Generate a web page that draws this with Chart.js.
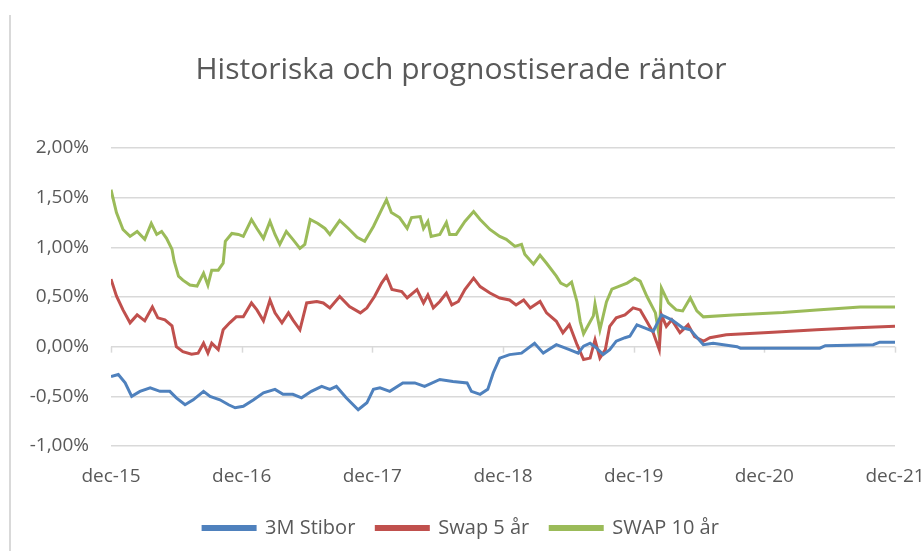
<!DOCTYPE html>
<html>
<head>
<meta charset="utf-8">
<script src="https://cdn.jsdelivr.net/npm/chart.js@4"></script>
<style>
  html, body { margin: 0; padding: 0; background: #fff; }
  #wrap { position: relative; width: 922px; height: 551px; }
  #frame { position: absolute; left: 9px; top: 15px; bottom: 0; border-left: 2px solid #d9d9d9; }
  canvas { position: absolute; left: 0; top: 0; }
</style>
</head>
<body>
<div id="wrap">
  <div id="frame"></div>
  <canvas id="chart" width="922" height="551"></canvas>
</div>
<script>
// x values are months counted from dec-15
var tickLabels = ["dec-15", "dec-16", "dec-17", "dec-18", "dec-19", "dec-20", "dec-21"];
var seriesNames = ["3M Stibor", "Swap 5 år", "SWAP 10 år"];
var seriesColors = ["#4f81bd", "#c0504d", "#9bbb59"];

var stiborMonths = [0, 0.67, 1.3, 1.9, 2.66, 3.6, 4.5, 5.4, 6.0, 6.8, 7.55, 8.5, 9.1, 10.0, 10.8, 11.4, 12.15, 13.1, 14.0, 15.06, 15.8, 16.7, 17.5, 18.4, 19.35, 20.1, 20.7, 21.6, 22.7, 23.5, 24.1, 24.7, 25.6, 26.8, 27.9, 28.8, 30.2, 31.4, 32.7, 33.1, 33.9, 34.6, 35.1, 35.7, 36.6, 37.7, 38.9, 39.7, 40.9, 42.1, 42.9, 43.4, 44.0, 44.6, 45.2, 45.8, 46.4, 47.2, 47.65, 48.3, 49.0, 49.8, 50.55, 51.5, 52.5, 53.2, 54.4, 55.3, 57.5, 57.8, 65.1, 65.6, 70, 70.6, 72];
var stiborValues = [-0.30, -0.28, -0.365, -0.50, -0.45, -0.415, -0.45, -0.45, -0.515, -0.585, -0.535, -0.45, -0.50, -0.535, -0.585, -0.615, -0.60, -0.535, -0.465, -0.43, -0.48, -0.48, -0.515, -0.45, -0.40, -0.43, -0.40, -0.515, -0.635, -0.565, -0.43, -0.415, -0.45, -0.365, -0.365, -0.40, -0.33, -0.35, -0.365, -0.45, -0.48, -0.43, -0.265, -0.115, -0.08, -0.065, 0.035, -0.065, 0.02, -0.03, -0.065, 0.005, 0.035, -0.015, -0.08, -0.03, 0.055, 0.09, 0.105, 0.22, 0.19, 0.155, 0.32, 0.27, 0.19, 0.17, 0.02, 0.035, 0.0, -0.015, -0.015, 0.01, 0.02, 0.045, 0.045];

var swap5Months = [0, 0.5, 1.1, 1.75, 2.4, 3.1, 3.8, 4.3, 4.95, 5.6, 6.0, 6.6, 7.4, 8.0, 8.5, 8.9, 9.25, 9.85, 10.3, 10.9, 11.5, 12.15, 12.9, 13.4, 14.0, 14.6, 15.06, 15.7, 16.3, 16.7, 17.35, 17.97, 18.9, 19.5, 20.1, 21.0, 21.9, 22.9, 23.5, 24.2, 24.85, 25.3, 25.8, 26.7, 27.2, 28.1, 28.7, 29.1, 29.6, 30.2, 30.8, 31.3, 31.9, 32.5, 33.3, 33.9, 34.8, 35.7, 36.6, 37.2, 37.9, 38.5, 39.4, 40.0, 40.9, 41.5, 42.1, 42.8, 43.4, 44.0, 44.45, 44.9, 45.4, 45.8, 46.4, 47.2, 47.95, 48.6, 49.2, 49.8, 50.35, 50.55, 51.0, 51.5, 52.25, 53.0, 53.6, 54.4, 55.0, 56.5, 60.8, 64.8, 68.5, 72];
var swap5Values = [0.68, 0.51, 0.37, 0.24, 0.32, 0.26, 0.40, 0.29, 0.27, 0.21, 0.0, -0.05, -0.075, -0.065, 0.035, -0.065, 0.035, -0.03, 0.17, 0.24, 0.30, 0.30, 0.44, 0.37, 0.26, 0.47, 0.34, 0.24, 0.34, 0.27, 0.17, 0.44, 0.455, 0.44, 0.39, 0.505, 0.405, 0.34, 0.39, 0.505, 0.64, 0.71, 0.575, 0.555, 0.49, 0.575, 0.44, 0.52, 0.39, 0.455, 0.54, 0.42, 0.455, 0.575, 0.69, 0.605, 0.54, 0.49, 0.47, 0.42, 0.47, 0.39, 0.455, 0.34, 0.255, 0.14, 0.22, 0.02, -0.13, -0.115, 0.07, -0.115, -0.03, 0.205, 0.29, 0.32, 0.39, 0.37, 0.255, 0.14, -0.03, 0.32, 0.205, 0.27, 0.14, 0.22, 0.10, 0.055, 0.09, 0.12, 0.145, 0.17, 0.19, 0.205];

var swap10Months = [0, 0.5, 1.1, 1.75, 2.4, 3.1, 3.7, 4.2, 4.65, 5.1, 5.6, 5.8, 6.2, 6.6, 7.25, 7.9, 8.5, 8.9, 9.25, 9.85, 10.3, 10.5, 11.1, 11.7, 12.15, 12.9, 13.4, 14.0, 14.6, 15.06, 15.5, 16.1, 16.7, 17.35, 17.8, 18.3, 19.0, 19.65, 20.1, 21.0, 21.8, 22.6, 23.3, 24.1, 24.85, 25.3, 25.75, 26.5, 27.2, 27.6, 28.4, 28.7, 29.1, 29.4, 30.2, 30.8, 31.1, 31.7, 32.5, 33.3, 33.9, 34.8, 35.7, 36.3, 37.1, 37.7, 38.0, 38.8, 39.4, 40.0, 40.9, 41.3, 41.85, 42.3, 42.8, 43.1, 43.4, 43.8, 44.3, 44.45, 44.9, 45.5, 46.0, 46.7, 47.4, 48.1, 48.6, 49.2, 50.0, 50.35, 50.55, 51.2, 51.9, 52.5, 53.2, 53.8, 54.4, 57.1, 61.7, 64.8, 68.8, 72];
var swap10Values = [1.58, 1.35, 1.18, 1.11, 1.16, 1.08, 1.24, 1.13, 1.16, 1.09, 0.98, 0.86, 0.71, 0.67, 0.62, 0.61, 0.74, 0.62, 0.77, 0.77, 0.84, 1.06, 1.14, 1.13, 1.11, 1.28, 1.19, 1.09, 1.26, 1.13, 1.03, 1.16, 1.08, 0.99, 1.03, 1.28, 1.24, 1.19, 1.13, 1.27, 1.19, 1.10, 1.06, 1.21, 1.38, 1.48, 1.35, 1.30, 1.19, 1.30, 1.31, 1.19, 1.26, 1.11, 1.13, 1.25, 1.13, 1.13, 1.26, 1.36, 1.28, 1.18, 1.11, 1.08, 1.01, 1.03, 0.93, 0.83, 0.92, 0.84, 0.71, 0.64, 0.61, 0.65, 0.45, 0.25, 0.13, 0.21, 0.31, 0.43, 0.17, 0.45, 0.58, 0.61, 0.64, 0.69, 0.66, 0.51, 0.34, 0.10, 0.59, 0.44, 0.37, 0.36, 0.49, 0.36, 0.30, 0.32, 0.345, 0.37, 0.40, 0.40];

var yMin = -1, yMax = 2, yStep = 0.5;

function toPoints(months, values) {
    return months.map(function (m, i) { return { x: m, y: values[i] }; });
}

function makeDataset(i, months, values) {
    return {
        label: seriesNames[i],
        data: toPoints(months, values),
        borderColor: seriesColors[i],
        backgroundColor: seriesColors[i],
        borderWidth: 3,
        pointRadius: 0,
        tension: 0,
        fill: false
    };
}

// small tick marks on the zero line, like the original
var zeroTicks = {
    id: "zeroTicks",
    beforeDatasetsDraw: function (chart) {
        var x = chart.scales.x, y = chart.scales.y, ctx = chart.ctx;
        var y0 = y.getPixelForValue(0);
        ctx.save();
        ctx.strokeStyle = "#d9d9d9";
        ctx.lineWidth = 1.5;
        x.ticks.forEach(function (t) {
            var px = Math.round(x.getPixelForValue(t.value)) + 0.5;
            ctx.beginPath();
            ctx.moveTo(px, y0);
            ctx.lineTo(px, y0 + 6);
            ctx.stroke();
        });
        ctx.restore();
    }
};

Chart.defaults.font.family = "'Open Sans', 'Noto Sans', sans-serif";
Chart.defaults.color = "#595959";

new Chart(document.getElementById("chart"), {
    type: "line",
    data: {
        datasets: [
            makeDataset(0, stiborMonths, stiborValues),
            makeDataset(1, swap5Months, swap5Values),
            makeDataset(2, swap10Months, swap10Values)
        ]
    },
    options: {
        responsive: false,
        animation: false,
        layout: { padding: { left: 0, right: 0, top: 0, bottom: 3 } },
        plugins: {
            title: {
                display: true,
                text: "Historiska och prognostiserade räntor",
                color: "#595959",
                font: { size: 30, weight: "normal" },
                padding: { top: 52, bottom: 60 }
            },
            legend: {
                position: "bottom",
                labels: {
                    boxWidth: 52,
                    boxHeight: 3,
                    padding: 21,
                    color: "#595959",
                    font: { size: 20 }
                }
            },
            tooltip: { enabled: false }
        },
        scales: {
            x: {
                type: "linear",
                min: 0,
                max: 72,
                grid: { display: false, drawTicks: false },
                border: { display: false },
                ticks: {
                    stepSize: 12,
                    padding: 19,
                    maxRotation: 0,
                    font: { size: 19 },
                    callback: function (v) { return tickLabels[Math.round(v / 12)]; }
                },
                afterFit: function (s) {
                    s.height = 51;
                    s.paddingLeft = 0;
                    s.paddingRight = 27;
                }
            },
            y: {
                min: yMin,
                max: yMax,
                grid: { color: "#d9d9d9", lineWidth: 1.5, drawTicks: false },
                border: { display: false },
                ticks: {
                    stepSize: yStep,
                    padding: 22,
                    font: { size: 19 },
                    callback: function (v) { return v.toFixed(2).replace(".", ",") + "%"; }
                },
                afterFit: function (s) { s.width = 111; }
            }
        }
    },
    plugins: [zeroTicks]
});
</script>
</body>
</html>
